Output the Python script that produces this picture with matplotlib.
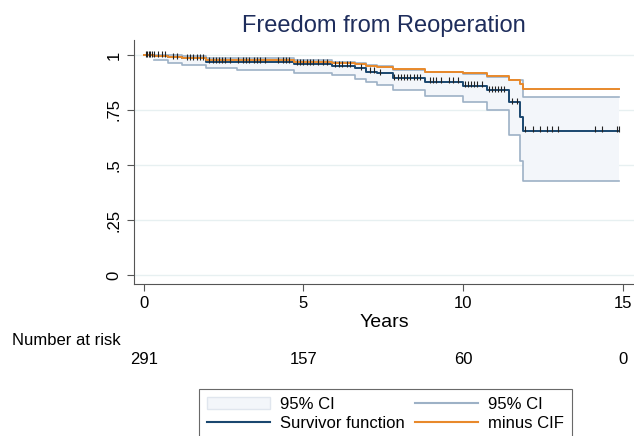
import numpy as np
import matplotlib
matplotlib.use('Agg')
import matplotlib.pyplot as plt
from matplotlib.patches import Patch
from matplotlib.lines import Line2D

plt.rcParams['font.family'] = ['Liberation Sans', 'DejaVu Sans']

# step times (years) and estimates
times = [0, 0.32, 0.75, 1.2, 1.95, 2.9, 4.7, 5.9, 6.6, 6.95, 7.3, 7.8, 8.8,
         10.0, 10.75, 11.45, 11.8, 11.87, 14.88]
surv = [1.0, 0.997, 0.99, 0.985, 0.97, 0.97, 0.96, 0.951, 0.939, 0.924, 0.916,
        0.896, 0.878, 0.86, 0.84, 0.786, 0.718, 0.656, 0.656]
lower = [1.0, 0.977, 0.962, 0.954, 0.939, 0.931, 0.919, 0.908, 0.893, 0.875,
         0.863, 0.84, 0.812, 0.786, 0.748, 0.634, 0.519, 0.427, 0.427]
upper = [1.0, 1.0, 0.998, 0.995, 0.985, 0.985, 0.978, 0.968, 0.962, 0.955,
         0.948, 0.932, 0.924, 0.913, 0.901, 0.885, 0.885, 0.809, 0.809]
minus_cif = [1.0, 0.996, 0.99, 0.985, 0.975, 0.975, 0.966, 0.962, 0.957, 0.951,
             0.945, 0.936, 0.924, 0.916, 0.905, 0.885, 0.87, 0.847, 0.847]

censor_times = [0.05, 0.1, 0.15, 0.2, 0.25, 0.3, 0.45, 0.55, 0.65, 0.9, 1.05,
                1.35, 1.45, 1.55, 1.65, 1.75, 1.85, 2.05, 2.15, 2.25, 2.35,
                2.45, 2.55, 2.7, 2.95, 3.1, 3.2, 3.3, 3.45, 3.55, 3.65, 3.8,
                4.2, 4.35, 4.45, 4.55, 4.8, 4.9, 5.0, 5.1, 5.2, 5.3, 5.45,
                5.6, 5.75, 6.0, 6.1, 6.2, 6.35, 6.45, 6.8, 7.1, 7.2, 7.4,
                7.85, 7.95, 8.05, 8.15, 8.25, 8.35, 8.45, 8.55, 8.65, 8.95,
                9.05, 9.15, 9.3, 9.55, 9.7, 9.85, 10.05, 10.15, 10.25, 10.35,
                10.45, 10.6, 10.8, 10.9, 11.0, 11.1, 11.2, 11.3, 11.55, 11.7,
                11.94, 12.19, 12.4, 12.63, 12.79, 12.98, 14.14, 14.35, 14.83,
                14.88]

risk_times = [0, 5, 10, 15]
risk_counts = [291, 157, 60, 0]

navy = '#1a476f'
title_c = '#1e2d5c'
orange = '#e8892b'
ci_line = '#9db1c6'
ci_fill = '#f3f6fa'
grid_c = '#e7f0f1'

fig = plt.figure(figsize=(6.34, 4.36), dpi=100)
ax = fig.add_axes([134 / 634, 1 - 284 / 436, 500 / 634, 244 / 436])

ax.fill_between(times[1:], lower[1:], upper[1:], step='post', color=ci_fill,
                linewidth=0)
ax.step(times[1:], lower[1:], where='post', color=ci_line, lw=1.2)
ax.step(times, upper, where='post', color=ci_line, lw=1.2)
ax.step(times, surv, where='post', color=navy, lw=1.4)
ax.step(times, minus_cif, where='post', color=orange, lw=1.4)

# censoring marks on the survivor curve
idx = np.searchsorted(times, censor_times, side='right') - 1
cens_y = np.array(surv)[idx] + 0.006
ax.plot(censor_times, cens_y, linestyle='none', marker='|', color='#222222',
        markersize=4, markeredgewidth=0.8)

ax.set_xlim(-0.313, 15.36)
ax.set_ylim(-0.041, 1.068)
ax.set_xticks([0, 5, 10, 15])
ax.set_yticks([0, 0.25, 0.5, 0.75, 1])
ax.set_yticklabels(['0', '.25', '.5', '.75', '1'], rotation=90, va='center')
ax.tick_params(axis='both', labelsize=12, color='#555555', length=5,
               direction='out')
ax.tick_params(axis='y', pad=4)
ax.tick_params(axis='x', pad=4)
ax.grid(axis='y', color=grid_c, lw=1)
ax.set_axisbelow(True)
for s in ['top', 'right']:
    ax.spines[s].set_visible(False)
for s in ['left', 'bottom']:
    ax.spines[s].set_color('#555555')
ax.set_xlabel('Years', fontsize=14, labelpad=2)
ax.set_title('Freedom from Reoperation', fontsize=17, color=title_c, pad=6)

# number at risk table
fig.text(12 / 634, 1 - 340 / 436, 'Number at risk', fontsize=12, va='center')
for t, n in zip(risk_times, risk_counts):
    xf = ax.transData.transform((t, 0))[0] / fig.bbox.width
    fig.text(xf, 1 - 359 / 436, str(n), fontsize=12, ha='center', va='center')

handles = [Patch(facecolor=ci_fill, edgecolor='#e0e6ee'),
           Line2D([], [], color=navy, lw=1.5),
           Line2D([], [], color=ci_line, lw=1.5),
           Line2D([], [], color=orange, lw=1.5)]
labels = ['95% CI', 'Survivor function', '95% CI', 'minus CIF']
leg = fig.legend(handles, labels, ncol=2, loc='upper center',
                 bbox_to_anchor=(385.5 / 634, 1 - 381 / 436), fontsize=12,
                 fancybox=False, edgecolor='#444444', handlelength=3.8,
                 handletextpad=0.6, columnspacing=0.6, borderpad=0.45,
                 labelspacing=0.25)
leg.get_frame().set_linewidth(0.8)

fig.savefig('out.png', dpi=100)
